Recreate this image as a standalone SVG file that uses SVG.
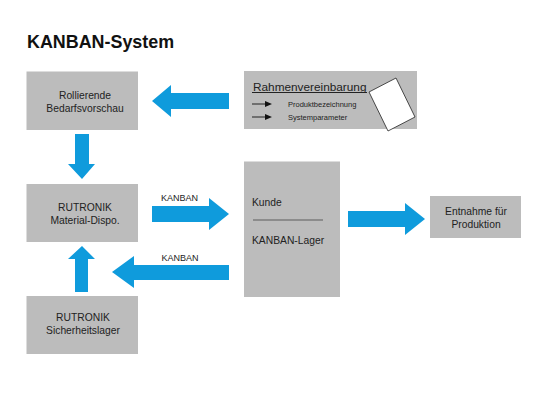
<svg xmlns="http://www.w3.org/2000/svg" width="540" height="403" viewBox="0 0 540 403">
<style>
text{font-family:"Liberation Sans",Arial,sans-serif;fill:#222}
.b{fill:#bcbcbc}
.a{fill:#0f9bdc}
.t{font-size:10.3px;text-anchor:middle}
.l{font-size:10.3px}
.k{font-size:9px;text-anchor:middle}
.s{font-size:7.500px}
.h{stroke:#222;stroke-width:1;fill:none}
.hd{fill:#111}
</style>
<rect width="540" height="403" fill="#fff"/>
<text x="27" y="48" font-size="17.900" font-weight="bold" style="fill:#111">KANBAN-System</text>
<g id="node-bedarf"><rect class="b" x="26.500" y="71.500" width="111.500" height="58.500"/><text class="t" x="85" y="99">Rollierende</text><text class="t" x="85" y="111.500">Bedarfsvorschau</text></g>
<g id="node-rahmen"><rect class="b" x="244" y="71" width="173" height="58"/><text x="253" y="91" font-size="11.800">Rahmenvereinbarung</text><path class="h" d="M252 92.500H367"/><polygon points="369,92 396,78 415,117 388,131" fill="#fff" stroke="#222" stroke-width="0.800"/><path class="h" d="M252 104H266M252 117H266"/><path class="hd" d="M265 101L272 104L265 107ZM265 114L272 117L265 120Z"/><text class="s" x="288" y="107">Produktbezeichnung</text><text class="s" x="288" y="120">Systemparameter</text></g>
<g id="node-dispo"><rect class="b" x="26.500" y="184" width="111.500" height="58"/><text class="t" x="85" y="211">RUTRONIK</text><text class="t" x="85" y="223.500">Material-Dispo.</text></g>
<g id="node-sicherheit"><rect class="b" x="26.500" y="296" width="111.500" height="58"/><text class="t" x="83" y="321">RUTRONIK</text><text class="t" x="83" y="334">Sicherheitslager</text></g>
<g id="node-kunde"><rect class="b" x="244" y="161.500" width="96" height="135.500"/><text class="l" x="252" y="206">Kunde</text><path d="M253 220H323" stroke="#333" stroke-width="0.700"/><text class="l" x="252" y="244">KANBAN-Lager</text></g>
<g id="node-entnahme"><rect class="b" x="430" y="196" width="91" height="42"/><text class="t" x="476" y="215">Entnahme für</text><text class="t" x="476" y="228">Produktion</text></g>
<g id="connectors">
<polygon class="a" points="229,93 171,93 171,85 152,101 171,117 171,109 229,109"/>
<polygon class="a" points="75,134 89,134 89,164 95,164 82,179 68,164 75,164"/>
<polygon class="a" points="152,206 209,206 209,198 229,214 209,230 209,222 152,222"/>
<polygon class="a" points="229,265 134,265 134,256 112,272 134,288 134,280 229,280"/>
<polygon class="a" points="75,292 88,292 88,259 95,259 82,246 68,259 75,259"/>
<polygon class="a" points="348,211 405,211 405,203 425,219 405,235 405,227 348,227"/>
<text class="k" x="179.500" y="200.500">KANBAN</text>
<text class="k" x="180" y="260.500">KANBAN</text>
</g>
</svg>
